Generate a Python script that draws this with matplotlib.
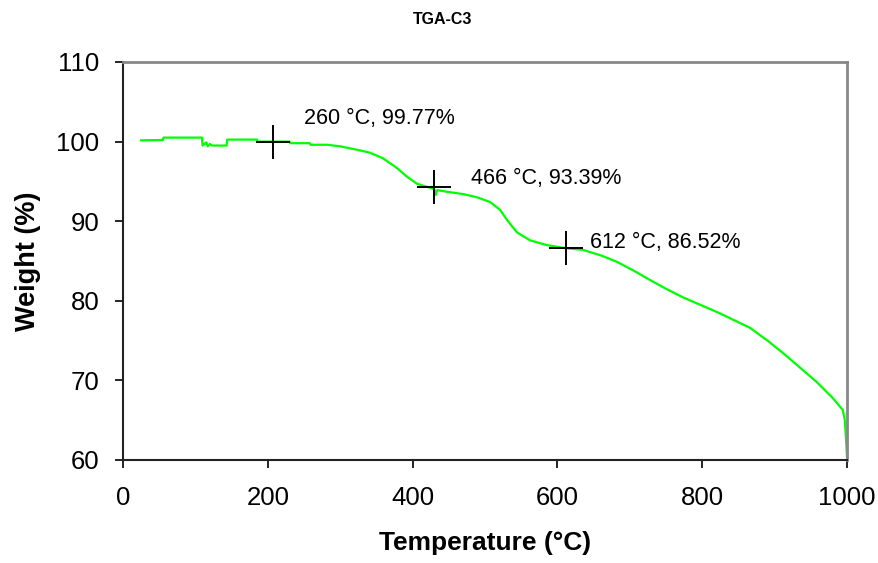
import matplotlib
matplotlib.use("Agg")
import matplotlib.pyplot as plt

plt.rcParams["font.family"] = ["Liberation Sans", "DejaVu Sans"]

# TGA curve
temp = [25, 55, 56, 109, 110, 115, 117, 120, 123, 143, 144, 185, 186, 230, 231,
        258, 259, 282, 300, 327, 341, 359, 378, 392, 406, 424, 430, 432, 434,
        447, 470, 489, 507, 521, 530, 544, 562, 585, 612, 635, 660, 682, 705,
        728, 750, 774, 797, 820, 843, 866, 890, 912, 935, 958, 980, 994, 997,
        999, 1000]
weight = [100.15, 100.2, 100.5, 100.5, 99.5, 99.9, 99.4, 99.7, 99.5, 99.5,
          100.25, 100.25, 100.0, 100.0, 99.8, 99.8, 99.6, 99.6, 99.4, 98.9,
          98.6, 97.9, 96.7, 95.6, 94.7, 94.2, 94.0, 93.3, 93.9, 93.7, 93.4,
          93.0, 92.4, 91.4, 90.2, 88.6, 87.6, 87.0, 86.6, 86.4, 85.7, 84.9,
          83.8, 82.6, 81.5, 80.4, 79.5, 78.6, 77.6, 76.6, 75.0, 73.4, 71.6,
          69.8, 67.8, 66.3, 65.0, 62.0, 60.4]

# marked points and their labels
mark_t = [207, 430, 612]
mark_w = [100.0, 94.3, 86.6]
mark_labels = ["260 °C, 99.77%", "466 °C, 93.39%", "612 °C, 86.52%"]
label_t = [250, 480, 645]
label_w = [102.9, 95.3, 87.3]

fig = plt.figure(figsize=(8.79, 5.63), dpi=100)
ax = fig.add_axes([0.1399, 0.183, 0.8237, 0.7069])

ax.plot(temp, weight, color="#00ff00", lw=1.6)
ax.plot(mark_t, mark_w, ls="none", marker="+", ms=25, mew=1.4, color="black")
for t, w, s in zip(label_t, label_w, mark_labels):
    ax.text(t, w, s, fontsize=15.5, va="center", ha="left")

ax.set_xlim(0, 1000)
ax.set_ylim(60, 110)
ax.set_xticks(range(0, 1001, 200))
ax.set_yticks(range(60, 111, 10))
ax.tick_params(axis="both", labelsize=18.5, length=6, width=1.2, direction="out")
ax.tick_params(axis="x", pad=13)
ax.tick_params(axis="y", pad=11)

for side in ["left", "bottom"]:
    ax.spines[side].set_color("#222222")
    ax.spines[side].set_linewidth(1.5)
for side in ["top", "right"]:
    ax.spines[side].set_color("#888888")
    ax.spines[side].set_linewidth(2)

ax.set_xlabel("Temperature (°C)", fontsize=19, fontweight="bold", labelpad=15)
ax.set_ylabel("Weight (%)", fontsize=19.5, fontweight="bold", labelpad=11)
fig.text(0.504, 0.966, "TGA-C3", fontsize=11.5, fontweight="bold",
         ha="center", va="center")

fig.savefig("out.png", dpi=100)
